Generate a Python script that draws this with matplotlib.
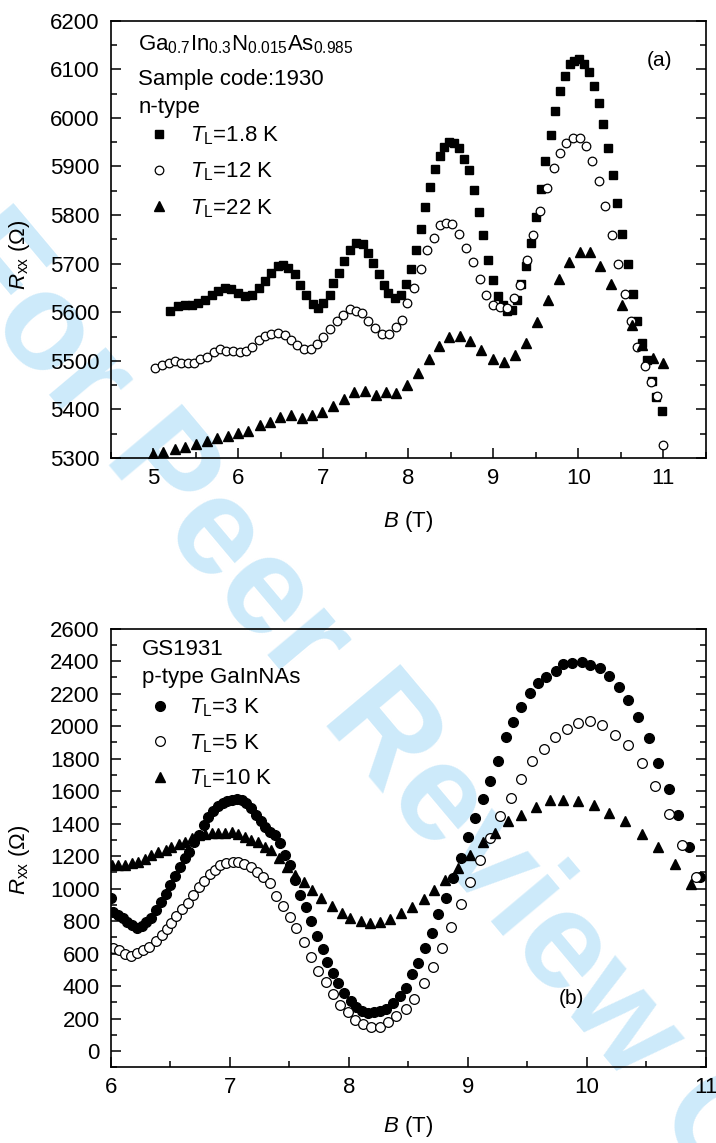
import matplotlib
matplotlib.use("Agg")
import matplotlib.pyplot as plt
from matplotlib.ticker import MultipleLocator

plt.rcParams['font.family'] = ['Liberation Sans', 'DejaVu Sans']
plt.rcParams['mathtext.fontset'] = 'custom'
plt.rcParams['mathtext.rm'] = 'Liberation Sans'
plt.rcParams['mathtext.it'] = 'Liberation Sans:italic'
plt.rcParams['mathtext.bf'] = 'Liberation Sans:bold'

# ---------------- panel (a) data: Ga0.7In0.3N0.015As0.985, n-type ----------------
a_B_18K = [5.20, 5.29, 5.37, 5.45, 5.53, 5.61, 5.69, 5.76, 5.84, 5.92, 6.00, 6.08, 6.16, 6.24,
           6.31, 6.39, 6.47, 6.53, 6.59, 6.67, 6.73, 6.80, 6.88, 6.94, 7.00, 7.08, 7.12, 7.18,
           7.24, 7.31, 7.39, 7.47, 7.53, 7.59, 7.65, 7.71, 7.76, 7.84, 7.92, 7.97, 8.03, 8.09,
           8.15, 8.20, 8.26, 8.31, 8.37, 8.42, 8.48, 8.54, 8.60, 8.66, 8.71, 8.77, 8.83, 8.88,
           8.94, 9.00, 9.05, 9.11, 9.16, 9.22, 9.28, 9.33, 9.39, 9.44, 9.50, 9.56, 9.61, 9.68,
           9.73, 9.78, 9.84, 9.90, 9.95, 10.01, 10.07, 10.13, 10.18, 10.24, 10.29, 10.35, 10.41,
           10.46, 10.52, 10.58, 10.64, 10.69, 10.75, 10.81, 10.87, 10.92, 10.98]
a_R_18K = [5602, 5612, 5615, 5614, 5619, 5626, 5636, 5643, 5649, 5647, 5640, 5633, 5636, 5650,
           5664, 5681, 5695, 5698, 5691, 5678, 5657, 5636, 5616, 5608, 5619, 5636, 5660, 5681,
           5705, 5729, 5743, 5740, 5722, 5702, 5678, 5657, 5640, 5629, 5636, 5658, 5689, 5728,
           5771, 5816, 5858, 5894, 5922, 5941, 5950, 5949, 5938, 5916, 5892, 5852, 5807, 5758,
           5708, 5667, 5633, 5614, 5602, 5605, 5626, 5658, 5695, 5742, 5796, 5853, 5911, 5965,
           6014, 6055, 6086, 6110, 6117, 6121, 6110, 6094, 6066, 6030, 5987, 5938, 5883,
           5824, 5762, 5700, 5638, 5582, 5537, 5502, 5458, 5426, 5397]

a_B_12K = [5.02, 5.10, 5.18, 5.26, 5.33, 5.41, 5.48, 5.55, 5.63, 5.71, 5.78, 5.86, 5.94, 6.02,
           6.09, 6.16, 6.24, 6.32, 6.39, 6.47, 6.55, 6.62, 6.69, 6.77, 6.85, 6.93, 7.00, 7.08,
           7.16, 7.23, 7.31, 7.38, 7.46, 7.53, 7.61, 7.69, 7.77, 7.85, 7.93, 7.99, 8.07, 8.15,
           8.22, 8.30, 8.37, 8.44, 8.52, 8.60, 8.68, 8.76, 8.84, 8.92, 9.00, 9.08, 9.16, 9.24,
           9.32, 9.40, 9.47, 9.55, 9.63, 9.71, 9.78, 9.86, 9.94, 10.02, 10.09, 10.16, 10.24,
           10.32, 10.40, 10.47, 10.55, 10.62, 10.69, 10.78, 10.85, 10.93, 11.00]
a_R_12K = [5486, 5491, 5496, 5500, 5495, 5495, 5495, 5503, 5508, 5519, 5524, 5521, 5520, 5519,
           5520, 5528, 5542, 5552, 5555, 5557, 5553, 5543, 5533, 5524, 5524, 5535, 5550, 5566,
           5582, 5595, 5606, 5602, 5598, 5582, 5567, 5555, 5555, 5569, 5584, 5619, 5650, 5689,
           5728, 5753, 5780, 5783, 5781, 5762, 5732, 5703, 5669, 5635, 5614, 5610, 5608, 5629,
           5657, 5708, 5758, 5808, 5856, 5897, 5927, 5949, 5959, 5958, 5943, 5911, 5871,
           5819, 5759, 5700, 5638, 5582, 5529, 5489, 5457, 5427, 5326]

a_B_22K = [5.00, 5.12, 5.26, 5.37, 5.50, 5.63, 5.75, 5.88, 6.00, 6.12, 6.25, 6.37, 6.49, 6.62,
           6.75, 6.87, 6.99, 7.12, 7.24, 7.36, 7.49, 7.62, 7.74, 7.86, 7.99, 8.11, 8.24, 8.36,
           8.48, 8.61, 8.73, 8.86, 9.00, 9.13, 9.26, 9.38, 9.51, 9.64, 9.77, 9.89, 10.02, 10.14,
           10.26, 10.39, 10.51, 10.63, 10.75, 10.88, 11.00]
a_R_22K = [5308, 5313, 5319, 5322, 5329, 5336, 5341, 5345, 5352, 5355, 5367, 5374, 5384, 5388,
           5383, 5388, 5395, 5407, 5422, 5436, 5438, 5430, 5435, 5434, 5450, 5475, 5504, 5531,
           5548, 5551, 5541, 5522, 5504, 5498, 5512, 5536, 5579, 5626, 5669, 5704, 5724, 5724,
           5695, 5658, 5615, 5574, 5533, 5505, 5495]

# ---------------- panel (b) data: GS1931, p-type GaInNAs ----------------
b_B_3K = [6.00, 6.02, 6.06, 6.10, 6.14, 6.18, 6.22, 6.26, 6.30, 6.34, 6.38, 6.42, 6.46, 6.50,
          6.54, 6.58, 6.62, 6.66, 6.70, 6.74, 6.78, 6.82, 6.86, 6.90, 6.94, 6.98, 7.02, 7.06,
          7.10, 7.14, 7.18, 7.22, 7.26, 7.30, 7.34, 7.38, 7.42, 7.46, 7.51, 7.55, 7.59, 7.64,
          7.68, 7.73, 7.78, 7.82, 7.87, 7.91, 7.96, 8.02, 8.06, 8.11, 8.16, 8.21, 8.26, 8.31,
          8.37, 8.43, 8.48, 8.53, 8.58, 8.64, 8.70, 8.75, 8.82, 8.88, 8.94, 9.00, 9.06, 9.13,
          9.19, 9.25, 9.32, 9.38, 9.45, 9.52, 9.59, 9.66, 9.74, 9.80, 9.88, 9.96, 10.03, 10.11,
          10.19, 10.27, 10.35, 10.43, 10.52, 10.60, 10.69, 10.77, 10.86, 10.95]
b_R_3K = [940, 857, 837, 818, 795, 775, 755, 770, 792, 820, 870, 918, 968, 1020,
          1080, 1134, 1186, 1228, 1285, 1329, 1391, 1442, 1480, 1508, 1526, 1536, 1545, 1549,
          1545, 1524, 1494, 1455, 1414, 1380, 1350, 1329, 1278, 1206, 1145, 1052, 960, 888,
          800, 708, 630, 550, 478, 421, 355, 310, 269, 248, 236, 238, 248, 257,
          294, 338, 386, 472, 540, 632, 728, 843, 940, 1066, 1186, 1317, 1432, 1553,
          1663, 1785, 1934, 2023, 2119, 2205, 2267, 2303, 2340, 2382, 2386, 2394, 2374, 2359,
          2308, 2238, 2160, 2057, 1928, 1774, 1612, 1450, 1254, 1073]

b_B_5K = [6.02, 6.07, 6.12, 6.17, 6.22, 6.27, 6.32, 6.38, 6.43, 6.47, 6.51, 6.55, 6.60, 6.65,
          6.69, 6.74, 6.78, 6.83, 6.88, 6.92, 6.97, 7.03, 7.07, 7.12, 7.18, 7.23, 7.28, 7.34,
          7.39, 7.45, 7.51, 7.56, 7.62, 7.68, 7.74, 7.81, 7.87, 7.93, 7.99, 8.05, 8.12, 8.19,
          8.26, 8.33, 8.40, 8.48, 8.55, 8.63, 8.71, 8.78, 8.86, 8.94, 9.02, 9.10, 9.19, 9.27,
          9.36, 9.45, 9.54, 9.64, 9.73, 9.83, 9.93, 10.03, 10.13, 10.24, 10.35, 10.46, 10.57,
          10.69, 10.80, 10.92]
b_R_5K = [632, 622, 597, 585, 601, 622, 642, 679, 714, 751, 790, 831, 872, 913,
          960, 1007, 1048, 1089, 1114, 1145, 1159, 1165, 1165, 1151, 1130, 1103, 1073, 1032,
          954, 892, 823, 755, 669, 580, 492, 426, 352, 285, 240, 191, 168, 150,
          150, 180, 213, 257, 318, 417, 519, 636, 765, 905, 1042, 1178, 1314, 1447,
          1557, 1676, 1786, 1857, 1934, 1982, 2021, 2031, 2008, 1947, 1881, 1770, 1633,
          1458, 1268, 1073]

b_B_10K = [6.01, 6.06, 6.12, 6.18, 6.23, 6.29, 6.34, 6.40, 6.46, 6.51, 6.57, 6.62, 6.68, 6.74,
           6.79, 6.85, 6.90, 6.96, 7.02, 7.07, 7.13, 7.18, 7.24, 7.30, 7.35, 7.41, 7.48, 7.55,
           7.62, 7.69, 7.77, 7.86, 7.94, 8.01, 8.10, 8.18, 8.26, 8.35, 8.44, 8.53, 8.63, 8.72,
           8.81, 8.92, 9.02, 9.13, 9.23, 9.34, 9.45, 9.57, 9.69, 9.80, 9.93, 10.06, 10.19,
           10.32, 10.46, 10.60, 10.74, 10.88]
b_R_10K = [1145, 1145, 1145, 1155, 1165, 1180, 1206, 1227, 1237, 1257, 1274, 1288, 1309, 1329,
           1335, 1340, 1340, 1343, 1346, 1335, 1319, 1298, 1288, 1257, 1237, 1186, 1134, 1083,
           1042, 991, 940, 895, 847, 816, 798, 790, 796, 811, 847, 884, 933, 991,
           1055, 1124, 1206, 1288, 1343, 1416, 1452, 1503, 1545, 1545, 1538, 1514, 1467,
           1415, 1333, 1254, 1149, 1028]

FS = 16

fig = plt.figure(figsize=(7.16, 11.43), dpi=100)

# watermark
fig.text(-0.055, 0.795, 'For Peer Review Only', fontsize=100, fontweight='bold',
         color='#cdeafa', rotation=-50, rotation_mode='anchor', ha='left', va='center',
         zorder=-5)

ax1 = fig.add_axes([0.1547, 0.5993, 0.8310, 0.3826])
ax2 = fig.add_axes([0.1547, 0.0662, 0.8310, 0.3839])

def style(ax):
    ax.set_facecolor('none')
    for s in ax.spines.values():
        s.set_linewidth(1.2)
    ax.tick_params(which='both', direction='in', right=True, top=False,
                   labelsize=FS, width=1.1)
    ax.tick_params(axis='x', which='major', length=7, pad=7)
    ax.tick_params(axis='x', which='minor', length=4)
    ax.tick_params(axis='y', which='major', length=7, pad=8)
    ax.tick_params(axis='y', which='minor', length=4.5)

# ---- panel (a)
ax1.plot(a_B_18K, a_R_18K, 's', color='black', ms=5.8, ls='none', label=r'$T_{\mathrm{L}}$=1.8 K')
ax1.plot(a_B_12K, a_R_12K, 'o', mfc='white', mec='black', mew=0.9, ms=6.2, ls='none',
         label=r'$T_{\mathrm{L}}$=12 K')
ax1.plot(a_B_22K, a_R_22K, '^', color='black', ms=7.3, ls='none', label=r'$T_{\mathrm{L}}$=22 K')
ax1.set_xlim(4.5, 11.5)
ax1.set_ylim(5300, 6200)
ax1.xaxis.set_major_locator(MultipleLocator(1))
ax1.xaxis.set_minor_locator(MultipleLocator(0.5))
ax1.yaxis.set_major_locator(MultipleLocator(100))
ax1.yaxis.set_minor_locator(MultipleLocator(50))
style(ax1)
ax1.set_xlabel(r'$\mathit{B}$ (T)', fontsize=FS)
ax1.set_ylabel(r'$\mathit{R}_{\mathrm{xx}}$ ($\Omega$)', fontsize=FS)
ax1.xaxis.set_label_coords(0.5, -0.117)
ax1.yaxis.set_label_coords(-0.132, 0.464)
ax1.text(0.046, 0.933, r'$\mathrm{Ga_{0.7}In_{0.3}N_{0.015}As_{0.985}}$', transform=ax1.transAxes,
         fontsize=FS, va='baseline', ha='left')
ax1.text(0.046, 0.853, 'Sample code:1930', transform=ax1.transAxes, fontsize=FS,
         va='baseline', ha='left')
ax1.text(0.046, 0.790, 'n-type', transform=ax1.transAxes, fontsize=FS, va='baseline', ha='left')
ax1.text(0.923, 0.910, '(a)', transform=ax1.transAxes, fontsize=FS - 1, va='center', ha='center')
ax1.legend(loc='upper left', bbox_to_anchor=(0.044, 0.763), frameon=False, fontsize=FS,
           handlelength=2.0, handletextpad=0.4, labelspacing=0.62, borderpad=0,
           borderaxespad=0, numpoints=1)

# ---- panel (b)
ax2.plot(b_B_3K, b_R_3K, 'o', color='black', ms=7.0, ls='none', label=r'$T_{\mathrm{L}}$=3 K')
ax2.plot(b_B_5K, b_R_5K, 'o', mfc='white', mec='black', mew=0.9, ms=7.0, ls='none',
         label=r'$T_{\mathrm{L}}$=5 K')
ax2.plot(b_B_10K, b_R_10K, '^', color='black', ms=7.5, ls='none', label=r'$T_{\mathrm{L}}$=10 K')
ax2.set_xlim(6, 11)
ax2.set_ylim(-100, 2600)
ax2.xaxis.set_major_locator(MultipleLocator(1))
ax2.xaxis.set_minor_locator(MultipleLocator(0.5))
ax2.yaxis.set_major_locator(MultipleLocator(200))
ax2.yaxis.set_minor_locator(MultipleLocator(100))
style(ax2)
ax2.set_xlabel(r'$\mathit{B}$ (T)', fontsize=FS)
ax2.set_ylabel(r'$\mathit{R}_{\mathrm{xx}}$ ($\Omega$)', fontsize=FS)
ax2.xaxis.set_label_coords(0.5, -0.106)
ax2.yaxis.set_label_coords(-0.132, 0.472)
ax2.text(0.052, 0.940, 'GS1931', transform=ax2.transAxes, fontsize=FS, va='baseline', ha='left')
ax2.text(0.052, 0.875, 'p-type GaInNAs', transform=ax2.transAxes, fontsize=FS,
         va='baseline', ha='left')
ax2.text(0.775, 0.158, '(b)', transform=ax2.transAxes, fontsize=FS - 1, va='center', ha='center')
ax2.legend(loc='upper left', bbox_to_anchor=(0.046, 0.845), frameon=False, fontsize=FS,
           handlelength=2.0, handletextpad=0.3, labelspacing=0.58, borderpad=0,
           borderaxespad=0, numpoints=1)

fig.savefig('out.png', dpi=100)
